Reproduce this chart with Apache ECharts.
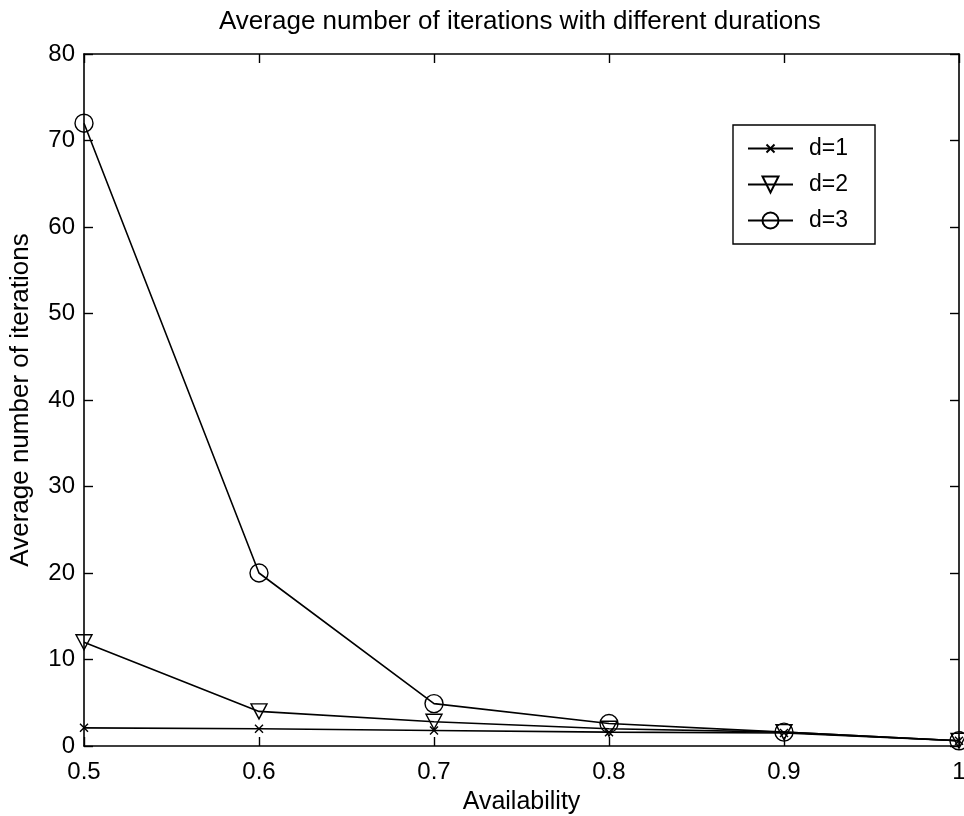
<!DOCTYPE html>
<html>
<head>
<meta charset="utf-8">
<script src="https://cdn.jsdelivr.net/npm/echarts@6/dist/echarts.min.js"></script>
<style>
html,body{margin:0;padding:0;background:#fff;}
#chart{width:964px;height:816px;}
</style>
</head>
<body>
<div id="chart"></div>
<script>
const availability = [0.5, 0.6, 0.7, 0.8, 0.9, 1.0];
const d1 = [2.1, 2.0, 1.8, 1.6, 1.5, 0.6];
const d2 = [12, 4.0, 2.8, 2.0, 1.6, 0.6];
const d3 = [72, 20, 4.9, 2.6, 1.6, 0.6];
const seriesNames = ['d=1', 'd=2', 'd=3'];
const titleText = 'Average number of iterations with different durations';
const xName = 'Availability';
const yName = 'Average number of iterations';

const FONT = 'Liberation Sans, Arial, sans-serif';
const pair = arr => availability.map((x, i) => [x, arr[i]]);

const chart = echarts.init(document.getElementById('chart'));
const markerStyle = {color: 'rgba(0,0,0,0)', borderColor: '#000', borderWidth: 1.4};
const lineStyle = {color: '#000', width: 1.6};

const xLabelFmt = v => (Math.abs(v - 1) < 1e-9 ? '1' : v.toFixed(1));

chart.setOption({
  animation: false,
  backgroundColor: '#fff',
  title: {
    text: titleText, left: 214, top: 4,
    textStyle: {fontFamily: FONT, fontSize: 26, fontWeight: 'normal', color: '#000'}
  },
  grid: {left: 84, right: 5, top: 54, bottom: 70, outerBoundsMode: 'none', containLabel: false},
  legend: {
    orient: 'vertical', left: 733, top: 125,
    data: seriesNames,
    backgroundColor: '#fff', borderColor: '#000', borderWidth: 1.4,
    padding: [12, 27, 12, 14], itemGap: 13, itemWidth: 45, itemHeight: 20,
    textStyle: {fontFamily: FONT, fontSize: 23, color: '#000', padding: [0, 0, 0, 11]}
  },
  xAxis: [{
    type: 'value', min: 0.5, max: 1, interval: 0.1,
    name: xName, nameLocation: 'middle', nameGap: 44,
    nameTextStyle: {fontFamily: FONT, fontSize: 25, color: '#000'},
    axisLine: {show: true, onZero: false, lineStyle: {color: '#000', width: 1.6}},
    axisTick: {inside: true, length: 9, lineStyle: {color: '#000', width: 1.4}},
    axisLabel: {fontFamily: FONT, fontSize: 24, color: '#000', margin: 14, formatter: xLabelFmt},
    splitLine: {show: false}
  }, {
    type: 'value', min: 0.5, max: 1, interval: 0.1, position: 'top',
    axisLine: {show: true, onZero: false, lineStyle: {color: '#000', width: 1.6}},
    axisTick: {inside: true, length: 9, lineStyle: {color: '#000', width: 1.4}},
    axisLabel: {show: false}, splitLine: {show: false}
  }],
  yAxis: [{
    type: 'value', min: 0, max: 80, interval: 10,
    name: yName, nameLocation: 'middle', nameGap: 50,
    nameTextStyle: {fontFamily: FONT, fontSize: 26, color: '#000'},
    axisLine: {show: true, onZero: false, lineStyle: {color: '#000', width: 1.6}},
    axisTick: {inside: true, length: 9, lineStyle: {color: '#000', width: 1.4}},
    axisLabel: {fontFamily: FONT, fontSize: 24, color: '#000', margin: 9},
    splitLine: {show: false}
  }, {
    type: 'value', min: 0, max: 80, interval: 10, position: 'right',
    axisLine: {show: true, onZero: false, lineStyle: {color: '#000', width: 1.6}},
    axisTick: {inside: true, length: 9, lineStyle: {color: '#000', width: 1.4}},
    axisLabel: {show: false}, splitLine: {show: false}
  }],
  series: [{
    name: seriesNames[0], type: 'line', data: pair(d1),
    symbol: 'path://M-5,-5M0,0L10,10M10,0L0,10M15,15', symbolSize: 16,
    itemStyle: markerStyle, lineStyle: lineStyle, z: 3
  }, {
    name: seriesNames[1], type: 'line', data: pair(d2),
    symbol: 'path://M0,0L10,0L5,9Z', symbolSize: [16, 15],
    itemStyle: markerStyle, lineStyle: lineStyle, z: 3
  }, {
    name: seriesNames[2], type: 'line', data: pair(d3),
    symbol: 'circle', symbolSize: 18,
    itemStyle: markerStyle, lineStyle: lineStyle, z: 3
  }]
});
</script>
</body>
</html>
